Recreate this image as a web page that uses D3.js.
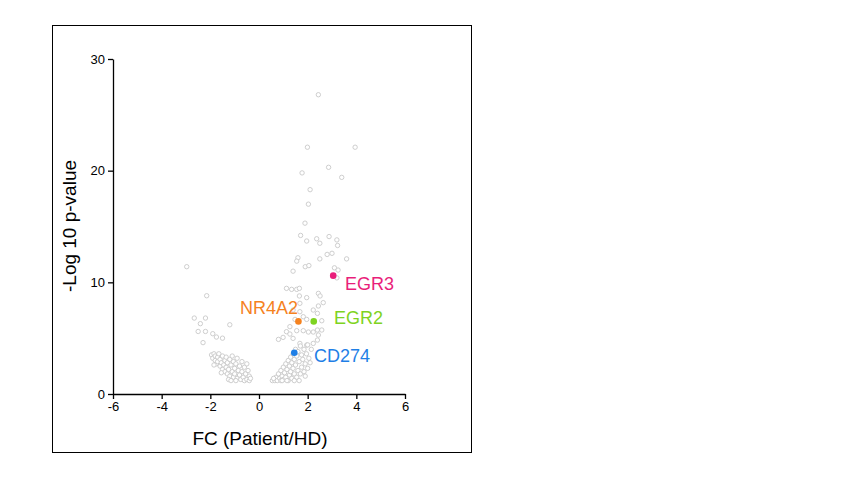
<!DOCTYPE html>
<html><head><meta charset="utf-8">
<script src="https://cdn.jsdelivr.net/npm/d3@7"></script>
<style>body{margin:0;background:#fff;font-family:"Liberation Sans",Arial,sans-serif;}</style>
</head><body>
<svg id="chart" width="852" height="479"></svg>
<script>
// DATA
var xTicks = [-6,-4,-2,0,2,4,6];
var yTicks = [0,10,20,30];

// scattered genes (FC, -log10 p)
var scattered = [
  [2.44,26.8],[1.99,22.1],[3.95,22.1],[2.86,20.3],[1.77,19.8],[3.40,19.4],[2.10,18.3],[2.03,17.0],
  [1.89,15.3],[1.71,14.2],[1.96,13.7],[2.37,13.9],[2.5,13.5],[2.88,14.1],[3.2,13.8],[3.23,13.3],
  [2.8,12.5],[3.0,12.6],[2.5,12.1],[3.6,12.1],[1.6,12.2],[1.55,11.9],[1.9,11.4],[2.05,11.5],
  [3.1,11.3],[3.25,11.1],[1.4,11.0],[3.2,10.4],
  [-2.97,11.4],[-2.15,8.8],[-2.66,6.8],[-2.2,6.8],[-2.41,6.3],[-2.5,5.6],[-2.2,5.6],[-1.2,6.2],
  [-2.3,4.6],[-1.9,5.4],[-1.75,5.1],[-1.5,5.0],
  [1.13,9.46],[1.34,9.37],[1.55,9.37],[1.66,9.46],[1.66,8.78],[1.68,8.12],[1.96,8.63],[2.44,9.01],
  [2.51,8.78],[2.64,8.18],[2.44,7.88],[2.23,7.52],[1.68,7.37],[1.82,6.92],[1.40,7.52],[1.48,6.68],
  [1.96,6.68],[2.40,7.22],[2.58,6.56],[1.27,6.03],[1.13,5.58],[1.27,5.37],[1.55,5.67],[1.82,5.67],
  [2.03,5.55],[2.23,5.55],[2.40,5.73],[2.58,5.73],[2.44,5.28],[0.99,5.07],[0.80,4.89],[1.40,4.98],
  [1.68,4.53],[1.96,4.38],[2.23,4.53],[2.40,4.83]
];
var leftCluster = [
  [-1.95,3.5],[-1.9,3.2],[-1.85,3.6],[-1.8,3.0],[-1.8,3.4],[-1.75,2.7],[-1.7,3.3],[-1.7,2.9],
  [-1.65,3.6],[-1.6,2.5],[-1.6,3.1],[-1.55,2.8],[-1.5,3.4],[-1.5,2.2],[-1.45,2.6],[-1.4,3.0],
  [-1.4,2.0],[-1.35,3.3],[-1.35,2.4],[-1.3,1.8],[-1.3,2.8],[-1.25,2.2],[-1.2,3.1],[-1.2,1.6],
  [-1.15,2.6],[-1.1,2.0],[-1.1,3.4],[-1.05,1.5],[-1.05,2.9],[-1.0,2.3],[-1.0,1.8],[-0.95,2.7],
  [-0.9,1.4],[-0.9,3.2],[-0.85,2.1],[-0.8,1.7],[-0.8,2.5],[-0.75,1.3],[-0.7,2.9],[-0.7,2.0],
  [-0.65,1.5],[-0.6,2.4],[-0.6,1.2],[-0.55,1.8],[-0.5,2.7],[-0.5,1.3],[-0.45,2.1],[-0.4,1.6],
  [-0.4,1.2],[-0.35,1.4],[-1.55,1.9],[-1.85,2.6],[-1.25,1.3],[-0.95,1.2],[-1.15,1.2]
];
var rightCluster = [
  [0.55,1.2],[0.65,1.2],[0.7,1.5],[0.75,1.2],[0.8,1.8],[0.85,1.4],[0.9,2.1],[0.9,1.2],
  [0.95,1.6],[1.0,2.4],[1.0,1.3],[1.05,1.9],[1.1,2.7],[1.1,1.5],[1.15,2.2],[1.2,3.0],
  [1.2,1.2],[1.25,1.7],[1.25,2.5],[1.3,3.3],[1.3,2.0],[1.35,1.4],[1.35,2.8],[1.4,3.6],
  [1.4,2.3],[1.45,1.8],[1.45,3.1],[1.5,4.0],[1.5,2.6],[1.55,1.5],[1.55,3.4],[1.6,2.1],
  [1.6,3.8],[1.65,2.9],[1.7,4.3],[1.7,1.8],[1.75,2.4],[1.75,3.5],[1.8,3.1],[1.85,4.0],
  [1.85,2.0],[1.9,2.7],[1.95,3.6],[2.0,4.4],[2.0,2.3],[2.05,3.2],[2.1,2.8],[2.15,4.0],
  [0.6,1.4],[0.95,1.2],[1.15,1.2],[1.65,1.2],[1.45,1.2],[1.9,1.6]
];
var highlightNames = ["EGR3","NR4A2","EGR2","CD274"];
var highlightFC = [3.05,1.62,2.25,1.45];
var highlightP = [10.6,6.5,6.5,3.7];
var highlightColors = ["#e91e7a","#f5821f","#7ed321","#1f7fe6"];

// RENDERING
var svg = d3.select("#chart");

svg.append("rect").attr("x",52.5).attr("y",25.5).attr("width",419).attr("height",427)
  .attr("fill","none").attr("stroke","#000").attr("stroke-width",1);

var x = d3.scaleLinear().domain([-6,6]).range([113,405]);
var y = d3.scaleLinear().domain([0,30]).range([394,59]);

var xAxis = svg.append("g").attr("transform","translate(0,394)")
  .call(d3.axisBottom(x).tickValues(xTicks).tickFormat(function(d){return String(d);}).tickSize(5).tickSizeOuter(0));
var yAxis = svg.append("g").attr("transform","translate(113,0)")
  .call(d3.axisLeft(y).tickValues(yTicks).tickSize(5).tickSizeOuter(0));
[xAxis,yAxis].forEach(function(a){
  a.selectAll("path,line").attr("stroke","#000").attr("stroke-width",1.3);
  a.selectAll("text").attr("font-size","13px").attr("font-family","Liberation Sans, Arial, sans-serif").attr("fill","#000");
});

var allGrey = scattered.concat(leftCluster, rightCluster);
svg.append("g").selectAll("circle").data(allGrey).enter().append("circle")
  .attr("cx",function(d){return x(d[0]);})
  .attr("cy",function(d){return y(d[1]);})
  .attr("r",2.2)
  .attr("fill","#fff").attr("stroke","#c8c8c8").attr("stroke-width",0.9);

var hl = highlightNames.map(function(n,i){
  return {name:n, fc:highlightFC[i], p:highlightP[i], color:highlightColors[i]};
});
svg.append("g").selectAll("circle").data(hl).enter().append("circle")
  .attr("cx",function(d){return x(d.fc);})
  .attr("cy",function(d){return y(d.p);})
  .attr("r",3.3).attr("fill",function(d){return d.color;});

var labelPos = {EGR3:[345,290,"start"],NR4A2:[298,314,"end"],EGR2:[334,324,"start"],CD274:[314,362,"start"]};
svg.append("g").selectAll("text").data(hl).enter().append("text")
  .attr("x",function(d){return labelPos[d.name][0];})
  .attr("y",function(d){return labelPos[d.name][1];})
  .attr("text-anchor",function(d){return labelPos[d.name][2];})
  .attr("font-size","18px").attr("fill",function(d){return d.color;})
  .text(function(d){return d.name;});

svg.append("text").attr("x",260).attr("y",445).attr("text-anchor","middle")
  .attr("font-size","19px").text("FC (Patient/HD)");
svg.append("text").attr("transform","translate(76,226) rotate(-90)").attr("text-anchor","middle")
  .attr("font-size","19px").text("-Log 10 p-value");
</script>
</body></html>
